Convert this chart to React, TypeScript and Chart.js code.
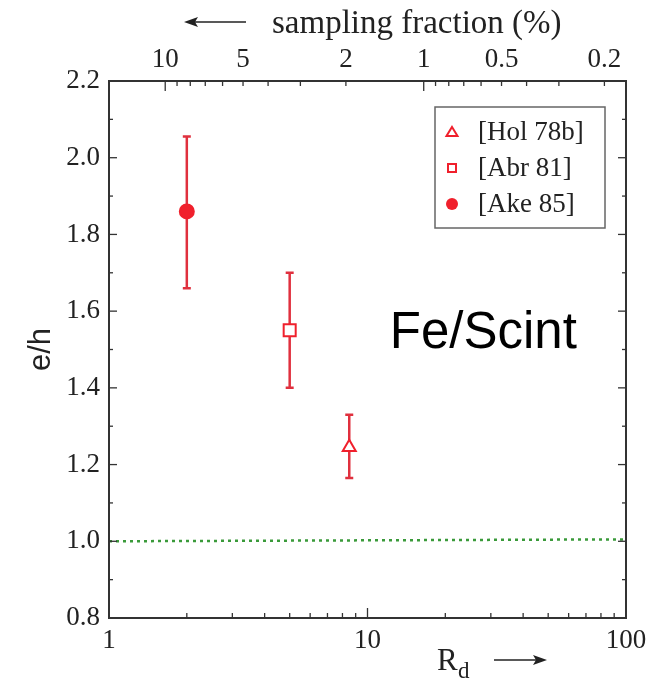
import React, { useEffect, useRef } from 'react';
import { Chart, registerables } from 'chart.js';
Chart.register(...registerables);

// ---- data ----
const seriesLabels = ['[Hol 78b]', '[Abr 81]', '[Ake 85]'];
const rdValues = [8.5, 5.0, 2.0];
const ehValues = [1.245, 1.55, 1.86];
const ehLow = [1.165, 1.4, 1.66];
const ehHigh = [1.33, 1.7, 2.055];
const refLineX = [1, 100];
const refLineY = [1.0, 1.005];
const bottomTickValues = [1, 10, 100];
const topTickLabels = ['10', '5', '2', '1', '0.5', '0.2'];
const topTickFractions = [10, 5, 2, 1, 0.5, 0.2];
const topMinorFractions = [9, 8, 7, 6, 4, 3, 0.9, 0.8, 0.7, 0.6, 0.4, 0.3];
const topLongFractions = [10, 1];
const rdTimesFraction = 16.5; // R_d * sampling fraction (%)
const yMin = 0.8;
const yMax = 2.2;
const yStep = 0.2;

const pointStyles = ['triangle', 'rect', 'circle'];
const pointFilled = [false, false, true];
const pointRadii = [7.5, 8.5, 7];
const RED = '#f0202c';
const BAR = '#e0303e';
const SERIF = '"Liberation Serif", "Times New Roman", serif';
const SANS = '"Liberation Sans", Arial, sans-serif';

const decoPlugin = {
  id: 'deco',
  beforeDatasetsDraw(chart: any) {
    const { ctx, scales } = chart;
    const xs = scales.x, ys = scales.y;
    ctx.save();
    ctx.strokeStyle = BAR;
    ctx.lineWidth = 2.5;
    for (let i = 0; i < rdValues.length; i++) {
      const px = xs.getPixelForValue(rdValues[i]);
      const lo = ys.getPixelForValue(ehLow[i]);
      const hi = ys.getPixelForValue(ehHigh[i]);
      ctx.beginPath();
      ctx.moveTo(px, lo); ctx.lineTo(px, hi);
      ctx.moveTo(px - 4, lo); ctx.lineTo(px + 4, lo);
      ctx.moveTo(px - 4, hi); ctx.lineTo(px + 4, hi);
      ctx.stroke();
    }
    ctx.restore();
  },
  afterDraw(chart: any) {
    const { ctx, chartArea: a, scales } = chart;
    const xs = scales.x, ys = scales.y;
    ctx.save();
    // frame
    ctx.strokeStyle = '#333';
    ctx.lineWidth = 2;
    ctx.strokeRect(a.left, a.top, a.right - a.left, a.bottom - a.top);
    ctx.lineWidth = 1.3;
    const tick = (x1: number, y1: number, x2: number, y2: number) => {
      ctx.beginPath(); ctx.moveTo(x1, y1); ctx.lineTo(x2, y2); ctx.stroke();
    };
    // bottom ticks
    for (const d of [1, 10]) {
      for (let m = 1; m <= 9; m++) {
        const v = d * m;
        const px = xs.getPixelForValue(v);
        const len = m === 1 ? 10 : 5;
        tick(px, a.bottom, px, a.bottom - len);
      }
    }
    // top ticks
    for (const f of [...topTickFractions, ...topMinorFractions]) {
      const px = xs.getPixelForValue(rdTimesFraction / f);
      const len = topLongFractions.includes(f) ? 10 : 5;
      tick(px, a.top, px, a.top + len);
    }
    // y ticks both sides
    const nMinor = Math.round((yMax - yMin) / (yStep / 2));
    for (let k = 0; k <= nMinor; k++) {
      const v = yMin + k * (yStep / 2);
      const py = ys.getPixelForValue(v);
      const len = k % 2 === 0 ? 8 : 4;
      tick(a.left, py, a.left + len, py);
      tick(a.right, py, a.right - len, py);
    }
    // axis titles
    ctx.fillStyle = '#222';
    ctx.font = '33px ' + SERIF;
    ctx.textBaseline = 'alphabetic';
    ctx.textAlign = 'left';
    ctx.fillText('sampling fraction (%)', 272, 33);
    // left arrow
    ctx.strokeStyle = '#222';
    ctx.lineWidth = 1.5;
    tick(190, 22, 246, 22);
    ctx.beginPath();
    ctx.moveTo(184, 22); ctx.lineTo(198, 17); ctx.lineTo(195, 22); ctx.lineTo(198, 27); ctx.closePath();
    ctx.fill();
    // bottom title R_d ->
    ctx.font = '31px ' + SERIF;
    ctx.fillText('R', 437, 670);
    ctx.font = '23px ' + SERIF;
    ctx.fillText('d', 458, 678);
    tick(494, 660, 540, 660);
    ctx.beginPath();
    ctx.moveTo(547, 660); ctx.lineTo(533, 655); ctx.lineTo(536, 660); ctx.lineTo(533, 665); ctx.closePath();
    ctx.fill();
    // y title
    ctx.save();
    ctx.translate(50, (a.top + a.bottom) / 2);
    ctx.rotate(-Math.PI / 2);
    ctx.textAlign = 'center';
    ctx.font = '31px ' + SANS;
    ctx.fillText('e/h', 0, 0);
    ctx.restore();
    // annotation
    ctx.font = '51px ' + SANS;
    ctx.fillStyle = '#000';
    ctx.textAlign = 'left';
    ctx.textBaseline = 'middle';
    ctx.fillText('Fe/Scint', xs.getPixelForValue(12.2), ys.getPixelForValue(1.54));
    // legend
    const bw = 170, bh = 121;
    const bx = a.right - 21 - bw, by = a.top + 26;
    ctx.fillStyle = '#fff';
    ctx.fillRect(bx, by, bw, bh);
    ctx.strokeStyle = '#666';
    ctx.lineWidth = 1.5;
    ctx.strokeRect(bx, by, bw, bh);
    ctx.font = '27px ' + SERIF;
    ctx.textBaseline = 'middle';
    for (let i = 0; i < seriesLabels.length; i++) {
      const cy = by + 25 + i * 36;
      const sx = bx + 17;
      ctx.strokeStyle = RED;
      ctx.fillStyle = RED;
      ctx.lineWidth = 2;
      const st = pointStyles[i];
      ctx.beginPath();
      if (st === 'triangle') {
        ctx.moveTo(sx, cy - 5); ctx.lineTo(sx + 5.5, cy + 4); ctx.lineTo(sx - 5.5, cy + 4); ctx.closePath(); ctx.stroke();
      } else if (st === 'rect') {
        ctx.rect(sx - 4, cy - 4, 8, 8); ctx.stroke();
      } else {
        ctx.arc(sx, cy, 6, 0, Math.PI * 2); ctx.fill();
      }
      ctx.fillStyle = '#222';
      ctx.fillText(seriesLabels[i], bx + 43, cy + 1);
    }
    ctx.restore();
  },
};

export default function App() {
  const ref = useRef<HTMLCanvasElement>(null);
  useEffect(() => {
    document.body.style.margin = '0';
    const datasets: any[] = seriesLabels.map((label, i) => ({
      label,
      data: [{ x: rdValues[i], y: ehValues[i] }],
      pointStyle: pointStyles[i],
      pointRadius: pointRadii[i],
      pointBorderWidth: 2,
      pointBorderColor: RED,
      pointBackgroundColor: pointFilled[i] ? RED : '#ffffff',
      showLine: false,
    }));
    datasets.push({
      label: 'ref',
      data: refLineX.map((x, i) => ({ x, y: refLineY[i] })),
      showLine: true,
      borderColor: '#3a9a3a',
      borderWidth: 2.5,
      borderDash: [3, 4],
      pointRadius: 0,
    });
    const chart = new Chart(ref.current!, {
      type: 'scatter',
      data: { datasets },
      plugins: [decoPlugin],
      options: {
        responsive: false,
        animation: false,
        layout: { padding: { left: 0, right: 29, top: 0, bottom: 0 } },
        plugins: { legend: { display: false }, tooltip: { enabled: false } },
        scales: {
          x: {
            type: 'logarithmic',
            position: 'bottom',
            min: 1,
            max: 100,
            grid: { display: false, drawTicks: false },
            border: { display: false },
            afterBuildTicks: (s: any) => { s.ticks = bottomTickValues.map((v) => ({ value: v })); },
            afterFit: (s: any) => { s.height = 62; },
            ticks: {
              autoSkip: false,
              maxRotation: 0,
              padding: 7,
              color: '#222',
              font: { family: SERIF, size: 27 },
              callback: (v: any) => String(v),
            },
          },
          x2: {
            type: 'logarithmic',
            position: 'top',
            min: 1,
            max: 100,
            grid: { display: false, drawTicks: false },
            border: { display: false },
            afterBuildTicks: (s: any) => { s.ticks = topTickFractions.map((f) => ({ value: rdTimesFraction / f })); },
            afterFit: (s: any) => { s.height = 81; },
            ticks: {
              autoSkip: false,
              maxRotation: 0,
              padding: 5,
              color: '#222',
              font: { family: SERIF, size: 27 },
              callback: (_v: any, i: number) => topTickLabels[i],
            },
          },
          y: {
            type: 'linear',
            min: yMin,
            max: yMax,
            grid: { display: false, drawTicks: false },
            border: { display: false },
            afterFit: (s: any) => { s.width = 109; },
            ticks: {
              stepSize: yStep,
              padding: 9,
              color: '#222',
              font: { family: SERIF, size: 27 },
              callback: (v: any) => Number(v).toFixed(1),
            },
          },
        },
      } as any,
    });
    return () => chart.destroy();
  }, []);
  return (
    <div style={{ width: 655, height: 680, background: '#fff' }}>
      <canvas ref={ref} width={655} height={680} />
    </div>
  );
}
